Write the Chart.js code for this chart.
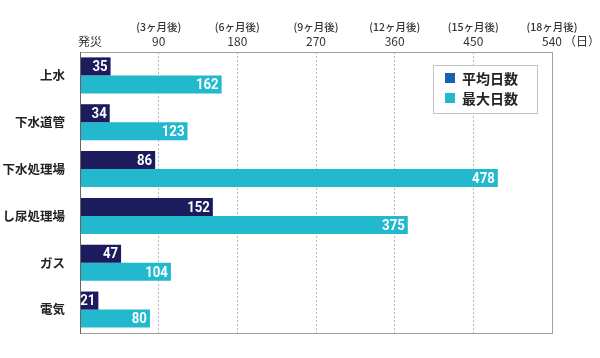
<!DOCTYPE html>
<html>
<head>
<meta charset="utf-8">
<script src="https://cdn.jsdelivr.net/npm/chart.js@4"></script>
<style>
    html, body { margin: 0; padding: 0; background: #fff; }
    #wrap { width: 600px; height: 358px; position: relative; }
</style>
</head>
<body>
<div id="wrap"><canvas id="chart"></canvas></div>
<script>
// data
const categories = ['上水', '下水道管', '下水処理場', 'し尿処理場', 'ガス', '電気'];
const avgDays = [35, 34, 86, 152, 47, 21];
const maxDays = [162, 123, 478, 375, 104, 80];
const seriesNames = ['平均日数', '最大日数'];
const tickValues = [90, 180, 270, 360, 450, 540];
const tickNotes = ['(3ヶ月後)', '(6ヶ月後)', '(9ヶ月後)', '(12ヶ月後)', '(15ヶ月後)', '(18ヶ月後)'];

const JP = '"Noto Sans CJK JP", "Noto Sans", sans-serif';
const NAVY = '#1b1b5e';
const CYAN = '#22b8cd';

// top axis labels, value labels, frame and legend
const decor = {
    id: 'decor',
    afterDatasetsDraw(chart) {
        const ctx = chart.ctx;
        const x = chart.scales.x;
        const area = chart.chartArea;
        ctx.save();

        // frame
        ctx.strokeStyle = '#a0a0a0';
        ctx.lineWidth = 1;
        ctx.strokeRect(area.left + 0.5, area.top + 0.5, area.right - area.left, area.bottom - area.top);
        ctx.strokeStyle = '#666';
        ctx.beginPath();
        ctx.moveTo(area.left + 0.5, area.top);
        ctx.lineTo(area.left + 0.5, area.bottom + 1);
        ctx.stroke();

        // tick labels on top
        ctx.fillStyle = '#333';
        ctx.textBaseline = 'middle';
        ctx.textAlign = 'left';
        ctx.font = '12px ' + JP;
        ctx.fillText('発災', x.getPixelForValue(0) - 2, 41);
        tickValues.forEach((v, i) => {
            const px = x.getPixelForValue(v);
            ctx.textAlign = 'center';
            ctx.font = '500 10.5px ' + JP;
            ctx.fillText(tickNotes[i], px, 27);
            ctx.font = '12px ' + JP;
            ctx.fillText(String(v), px, 41);
            if (i === tickValues.length - 1) {
                ctx.textAlign = 'left';
                ctx.fillText('（日）', px + 12, 41);
            }
        });

        // value labels (slightly condensed digits)
        ctx.fillStyle = '#fff';
        ctx.font = 'bold 15px Roboto, sans-serif';
        ctx.textAlign = 'right';
        chart.data.datasets.forEach((ds, di) => {
            chart.getDatasetMeta(di).data.forEach((bar, i) => {
                ctx.save();
                ctx.translate(bar.x - 3, bar.y + 1);
                ctx.scale(0.88, 1);
                ctx.fillText(String(ds.data[i]), 0, 0);
                ctx.restore();
            });
        });

        // legend
        const lx = 433, ly = 65;
        ctx.fillStyle = '#fff';
        ctx.fillRect(lx, ly, 104, 48);
        ctx.strokeStyle = '#c4c4c4';
        ctx.strokeRect(lx + 0.5, ly + 0.5, 104, 48);
        const swatches = ['#1562b3', CYAN];
        seriesNames.forEach((name, i) => {
            const y = ly + 13 + i * 20;
            ctx.fillStyle = swatches[i];
            ctx.fillRect(lx + 12, y - 5, 10, 10);
            ctx.fillStyle = '#222';
            ctx.textAlign = 'left';
            ctx.font = 'bold 14px ' + JP;
            ctx.fillText(name, lx + 29, y + 1);
        });
        ctx.restore();
    }
};

new Chart(document.getElementById('chart'), {
    type: 'bar',
    data: {
        labels: categories,
        datasets: [
            { label: seriesNames[0], data: avgDays, backgroundColor: NAVY, categoryPercentage: 0.77, barPercentage: 1 },
            { label: seriesNames[1], data: maxDays, backgroundColor: CYAN, categoryPercentage: 0.77, barPercentage: 1 }
        ]
    },
    options: {
        indexAxis: 'y',
        responsive: true,
        maintainAspectRatio: false,
        animation: false,
        layout: { padding: { left: 0, right: 48, top: 0, bottom: 25 } },
        plugins: { legend: { display: false }, tooltip: { enabled: false } },
        scales: {
            x: {
                position: 'top',
                min: 0,
                max: 540,
                ticks: { display: false, stepSize: 90 },
                grid: { color: '#b8b8b8', drawTicks: false },
                border: { display: false, dash: [2, 2] },
                afterFit: s => { s.height = 52; }
            },
            y: {
                ticks: { color: '#222', font: { family: JP, size: 12.5, weight: 'bold' }, padding: 7 },
                grid: { display: false },
                border: { display: false },
                afterFit: s => { s.width = 80; }
            }
        }
    },
    plugins: [decor]
});
</script>
</body>
</html>
